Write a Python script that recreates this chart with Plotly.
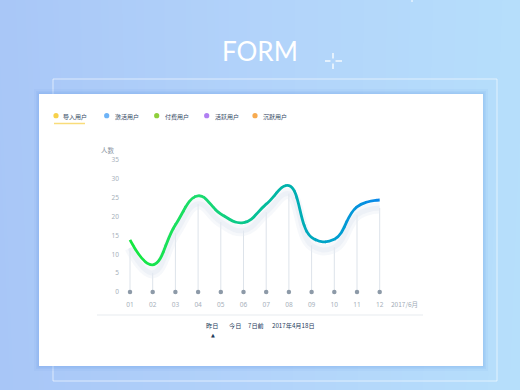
import plotly.graph_objects as go

# ---------------- data ----------------
TITLE = "FORM"
MONTHS = ["01", "02", "03", "04", "05", "06", "07", "08", "09", "10", "11", "12"]
USERS = [13.8, 7.2, 17.8, 25.5, 20.7, 18.4, 23.3, 28.2, 14.5, 14.0, 22.6, 24.4]
Y_TICKS = [0, 5, 10, 15, 20, 25, 30, 35]
Y_TITLE = "人数"
X_UNIT_LABEL = "2017/6月"
LEGEND_NAMES = ["导入用户", "激活用户", "付费用户", "活跃用户", "沉默用户"]
LEGEND_COLORS = ["#f7d14a", "#6db3f7", "#8fcf3c", "#b07ff2", "#f7aa4f"]
PERIODS = ["昨日", "今日", "7日前", "2017年4月18日"]

# ---------------- geometry helpers (layout only) ----------------
W, H = 520, 390
def fx(px): return px / W
def fy(py): return 1 - py / H

X1PX, STEP = 130.0, 22.7          # pixel of first month, pixels per month
Y0PX, PPU = 292.0, 132.0 / 35     # pixel of value 0, pixels per unit
def xval(px): return 1 + (px - X1PX) / STEP
def yval(py): return (Y0PX - py) / PPU

SHADOW_PX = 8.0
SHADOW_OFF = SHADOW_PX / PPU
SMOOTH = 1.25

CJK = "Noto Sans CJK SC"
xs = list(range(1, len(MONTHS) + 1))

fig = go.Figure()

# ---------------- background (full-page axes, pixel coordinates) ----------------
fig.add_trace(go.Heatmap(
    z=[[0.03, 0.97], [0.0, 1.0]], x=[0, W], y=[0, H], zsmooth="best",
    colorscale=[[0, "#a8c6f7"], [0.5, "#b2d3fa"], [1, "#b6dffb"]],
    showscale=False, hoverinfo="skip", xaxis="x", yaxis="y"))

def rect(x0, y0, x1, y1):
    return [x0, x1, x1, x0, x0], [y0, y0, y1, y1, y0]

# frame outline
rx, ry = rect(53, 79, 497, 381)
fig.add_trace(go.Scatter(x=rx, y=ry, mode="lines", line=dict(color="rgba(255,255,255,0.6)", width=1),
                         hoverinfo="skip", xaxis="x", yaxis="y"))
# card glow
for pad, a in [(5, 0.06), (3, 0.08), (1.5, 0.10)]:
    rx, ry = rect(39 - pad, 94 - pad, 483 + pad, 366 + pad)
    fig.add_trace(go.Scatter(x=rx, y=ry, mode="lines", fill="toself", line=dict(width=0),
                             fillcolor=f"rgba(80,135,225,{a})", hoverinfo="skip", xaxis="x", yaxis="y"))
# white card
rx, ry = rect(39, 94, 483, 366)
fig.add_trace(go.Scatter(x=rx, y=ry, mode="lines", fill="toself", line=dict(width=0),
                         fillcolor="#ffffff", hoverinfo="skip", xaxis="x", yaxis="y"))

# ---------------- chart ----------------
# vertical drop lines (to the shadow level)
vx, vy = [], []
for x, v in zip(xs, USERS):
    vx += [x, x, None]
    vy += [0, v - SHADOW_OFF, None]
fig.add_trace(go.Scatter(x=vx, y=vy, mode="lines", line=dict(color="#dde3ea", width=1),
                         hoverinfo="skip", xaxis="x2", yaxis="y2"))
# dots on the baseline
fig.add_trace(go.Scatter(x=xs, y=[0] * len(xs), mode="markers",
                         marker=dict(color="#8d9aa8", size=4.5), hoverinfo="skip", xaxis="x2", yaxis="y2"))
# soft shadow of the curve (same data, shifted axis)
fig.add_trace(go.Scatter(x=xs, y=USERS, mode="lines",
                         line=dict(shape="spline", smoothing=SMOOTH, color="rgba(230,236,243,0.35)", width=11),
                         hoverinfo="skip", xaxis="x2", yaxis="y3"))
fig.add_trace(go.Scatter(x=xs, y=USERS, mode="lines",
                         line=dict(shape="spline", smoothing=SMOOTH, color="rgba(226,233,241,0.45)", width=5),
                         hoverinfo="skip", xaxis="x2", yaxis="y3"))

# gradient curve: same spline drawn in thin clipped vertical slices
STOPS = [(0.0, (20, 232, 62)), (0.27, (28, 220, 108)), (0.45, (10, 200, 140)),
         (0.63, (0, 178, 172)), (0.82, (0, 160, 206)), (1.0, (10, 136, 234))]
def grad(t):
    t = max(0.0, min(1.0, t))
    for (t0, c0), (t1, c1) in zip(STOPS[:-1], STOPS[1:]):
        if t <= t1:
            u = (t - t0) / (t1 - t0)
            return "rgb(%d,%d,%d)" % tuple(round(a + (b - a) * u) for a, b in zip(c0, c1))
    return "rgb(%d,%d,%d)" % STOPS[-1][1]

N = 26
L0, L1 = 124.0, 386.0
slice_axes = {}
for i in range(N):
    a = L0 + (L1 - L0) * i / N - 0.4
    b = L0 + (L1 - L0) * (i + 1) / N + 0.4
    k = i + 3
    slice_axes[f"xaxis{k}"] = dict(domain=[fx(a), fx(b)], range=[xval(a), xval(b)],
                                   anchor="y2", visible=False, fixedrange=True)
    c = grad(((a + b) / 2 - X1PX) / (STEP * (len(xs) - 1)))
    fig.add_trace(go.Scatter(x=xs, y=USERS, mode="lines",
                             line=dict(shape="spline", smoothing=SMOOTH, color=c, width=2.8),
                             hoverinfo="skip", xaxis=f"x{k}", yaxis="y2"))

# ---------------- layout ----------------
AX_L, AX_R, AX_T, AX_B = 120, 423, 140, 299
yr = [yval(AX_B), yval(AX_T)]
tickfont = dict(family="Noto Sans", size=6.5, color="#a7b0ba")

annotations = [
    dict(text=TITLE, x=fx(260), y=fy(51), font=dict(family="Lato", size=26, color="#ffffff")),
    dict(text=Y_TITLE, x=fx(108), y=fy(150), font=dict(family=CJK, size=6.5, color="#8b96a3")),
    dict(text=X_UNIT_LABEL, x=fx(404), y=fy(304), font=dict(family=CJK, size=6.5, color="#a0aab5")),
    dict(text="▲", x=fx(213), y=fy(335), font=dict(family="DejaVu Sans", size=5, color="#1e3a5a")),
]
for name, px in zip(LEGEND_NAMES, [61, 112.7, 162.7, 213, 260.7]):
    annotations.append(dict(text=name, x=fx(px), y=fy(116), xanchor="left",
                            font=dict(family=CJK, size=6, color="#34495f")))
for name, px in zip(PERIODS, [212, 235, 256, 293]):
    annotations.append(dict(text=name, x=fx(px), y=fy(325.5),
                            font=dict(family=CJK, size=6.2, color="#1e3a5a")))
for an in annotations:
    an.update(xref="paper", yref="paper", showarrow=False)
    an.setdefault("xanchor", "center")
    an.setdefault("yanchor", "middle")

shapes = []
for c, px in zip(LEGEND_COLORS, [56, 106.7, 156.7, 206.7, 255]):
    shapes.append(dict(type="circle", xref="paper", yref="paper",
                       x0=fx(px - 2.6), x1=fx(px + 2.6), y0=fy(115.7 + 2.6), y1=fy(115.7 - 2.6),
                       fillcolor=c, line=dict(width=0)))
def seg(x0, y0, x1, y1, color, w):
    return dict(type="line", xref="paper", yref="paper", x0=fx(x0), y0=fy(y0), x1=fx(x1), y1=fy(y1),
                line=dict(color=color, width=w))
shapes += [
    seg(54, 123.5, 85, 123.5, "#f9dc7a", 1.5),
    seg(97, 315, 423, 315, "#e7ebef", 1),
    seg(325, 61, 330.5, 61, "#ffffff", 1.3),
    seg(335.5, 61, 342, 61, "#ffffff", 1.3),
    seg(333, 53, 333, 58.5, "#ffffff", 1.3),
    seg(333, 63.5, 333, 69, "#ffffff", 1.3),
    seg(412, 0, 412, 2, "#ffffff", 1),
]

fig.update_layout(
    width=W, height=H, margin=dict(l=0, r=0, t=0, b=0),
    paper_bgcolor="#b0d0f8", plot_bgcolor="rgba(0,0,0,0)",
    showlegend=False, hovermode=False,
    xaxis=dict(domain=[0, 1], range=[0, W], visible=False, fixedrange=True),
    yaxis=dict(domain=[0, 1], range=[H, 0], visible=False, fixedrange=True),
    xaxis2=dict(domain=[fx(AX_L), fx(AX_R)], range=[xval(AX_L), xval(AX_R)], anchor="y2",
                tickvals=xs, ticktext=MONTHS, showgrid=False, zeroline=False, showline=False,
                ticks="", tickfont=tickfont, fixedrange=True),
    yaxis2=dict(domain=[fy(AX_B), fy(AX_T)], range=yr, anchor="x2",
                tickvals=Y_TICKS, showgrid=False, zeroline=False, showline=False,
                ticks="", tickfont=tickfont, fixedrange=True),
    yaxis3=dict(overlaying="y2", range=[yr[0] + SHADOW_OFF, yr[1] + SHADOW_OFF], visible=False, fixedrange=True),
    annotations=annotations, shapes=shapes,
    **slice_axes,
)

fig.write_html("out.html", config={"displayModeBar": False})
